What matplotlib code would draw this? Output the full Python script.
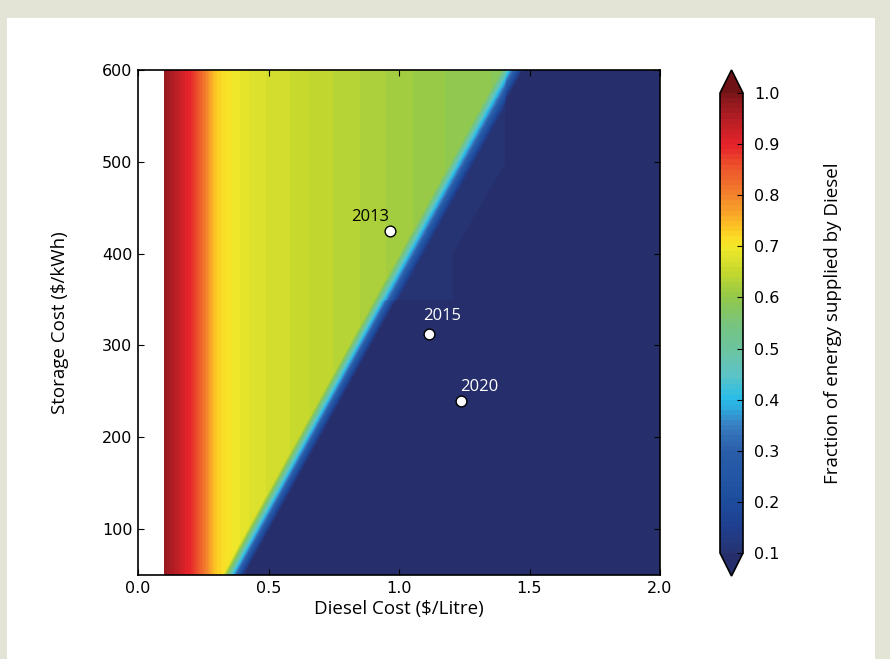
import numpy as np
import matplotlib.pyplot as plt
from matplotlib.colors import LinearSegmentedColormap
from matplotlib.patches import Rectangle

# fraction of energy from diesel across the diesel-cost axis (left of the switch line)
profile_diesel = [0.10, 0.12, 0.15, 0.18, 0.21, 0.23, 0.26, 0.28, 0.30, 0.33,
                  0.39, 0.44, 0.54, 0.62, 0.69, 0.80, 0.95, 1.10, 1.25, 1.45]
profile_fraction = [0.98, 0.96, 0.94, 0.91, 0.88, 0.85, 0.80, 0.76, 0.73, 0.71,
                    0.69, 0.675, 0.665, 0.655, 0.645, 0.635, 0.62, 0.605, 0.595, 0.585]

# switch line (centre of the cyan band)
edge_storage = [50, 600]
edge_diesel = [0.355, 1.425]

# slightly lighter step just right of the switch line
step_storage = [350, 402, 499, 600]
step_diesel = [1.207, 1.207, 1.406, 1.406]

years = ['2013', '2015', '2020']
year_diesel = [0.966, 1.115, 1.238]
year_storage = [425, 312, 239]
year_colors = ['black', 'white', 'white']
year_offsets = [(-20, 14), (13, 18), (18, 14)]  # pixels

# colour scale
cbar_values = [0.1, 0.15, 0.2, 0.25, 0.3, 0.35, 0.4, 0.45, 0.5, 0.55, 0.6,
               0.65, 0.7, 0.72, 0.75, 0.8, 0.85, 0.9, 0.95, 1.0]
cbar_colors = ['#263372', '#1f3f8f', '#1e4c9d', '#2356a5', '#2a5ea9', '#3a80c3',
               '#27bdea', '#5ec3c4', '#6cc49f', '#78c47d', '#93c84a', '#c4d82e',
               '#f2e92a', '#fcd824', '#fbb726', '#f2822b', '#ee5a2c', '#e5222a',
               '#b71f25', '#7a1518']

cmap = LinearSegmentedColormap.from_list(
    'diesel', [((v - 0.1) / 0.9, c) for v, c in zip(cbar_values, cbar_colors)])
cmap.set_under('#262f6b')
cmap.set_over('#6e1215')

# build the surface
xs = np.linspace(0.1, 2.0, 761)
ys = np.linspace(50, 600, 551)
X, Y = np.meshgrid(xs, ys)
base = np.interp(X, profile_diesel, profile_fraction)
edge = np.interp(Y, edge_storage, edge_diesel)
t = np.clip((X - edge + 0.035) / 0.09, 0, 1)
in_step = (Y >= 350) & (X < np.interp(Y, step_storage, step_diesel))
low = np.where(in_step, 0.11, 0.05)
Z = base * (1 - t) + low * t

fig = plt.figure(figsize=(8.9, 6.59), dpi=100)
fig.patch.set_facecolor('#e3e4d6')
fig.patches.append(Rectangle((7 / 890, 0), 868 / 890, 641 / 659,
                             transform=fig.transFigure, facecolor='white',
                             edgecolor='none', zorder=-10))

ax = fig.add_axes([138 / 890, 1 - 575 / 659, 522 / 890, 505 / 659])
levels = np.arange(0.1, 1.0001, 0.01)
cs = ax.contourf(X, Y, Z, levels=levels, cmap=cmap, extend='both')

ax.scatter(year_diesel, year_storage, s=60, facecolor='white',
           edgecolor='black', linewidth=1, zorder=5)
for name, xv, yv, col, off in zip(years, year_diesel, year_storage,
                                  year_colors, year_offsets):
    ax.annotate(name, (xv, yv), xytext=off, textcoords='offset pixels',
                ha='center', va='center', color=col, fontsize=12,
                family='Open Sans')

ax.set_xlim(0, 2.0)
ax.set_ylim(50, 600)
ax.set_xticks([0.0, 0.5, 1.0, 1.5, 2.0])
ax.set_yticks([100, 200, 300, 400, 500, 600])
ax.xaxis.set_major_formatter(plt.FormatStrFormatter('%.1f'))
ax.tick_params(direction='in', top=True, right=True, length=4,
               labelsize=11.5, pad=4)
for s in ax.spines.values():
    s.set_linewidth(1.2)
ax.set_xlabel('Diesel Cost ($/Litre)', family='Open Sans', fontsize=13.5,
              labelpad=3)
ax.set_ylabel('Storage Cost ($/kWh)', family='Open Sans', fontsize=13.5,
              labelpad=24)

cax = fig.add_axes([720 / 890, 1 - 576 / 659, 23 / 890, 506 / 659])
cb = fig.colorbar(cs, cax=cax, ticks=np.arange(0.1, 1.01, 0.1),
                  format='%.1f')
cb.outline.set_linewidth(1.2)
cax.tick_params(direction='in', length=4, labelsize=11.5, pad=8)
cb.set_label('Fraction of energy supplied by Diesel', family='Open Sans',
             fontsize=13.5, labelpad=32)

fig.savefig('out.png', dpi=100, facecolor=fig.get_facecolor())
